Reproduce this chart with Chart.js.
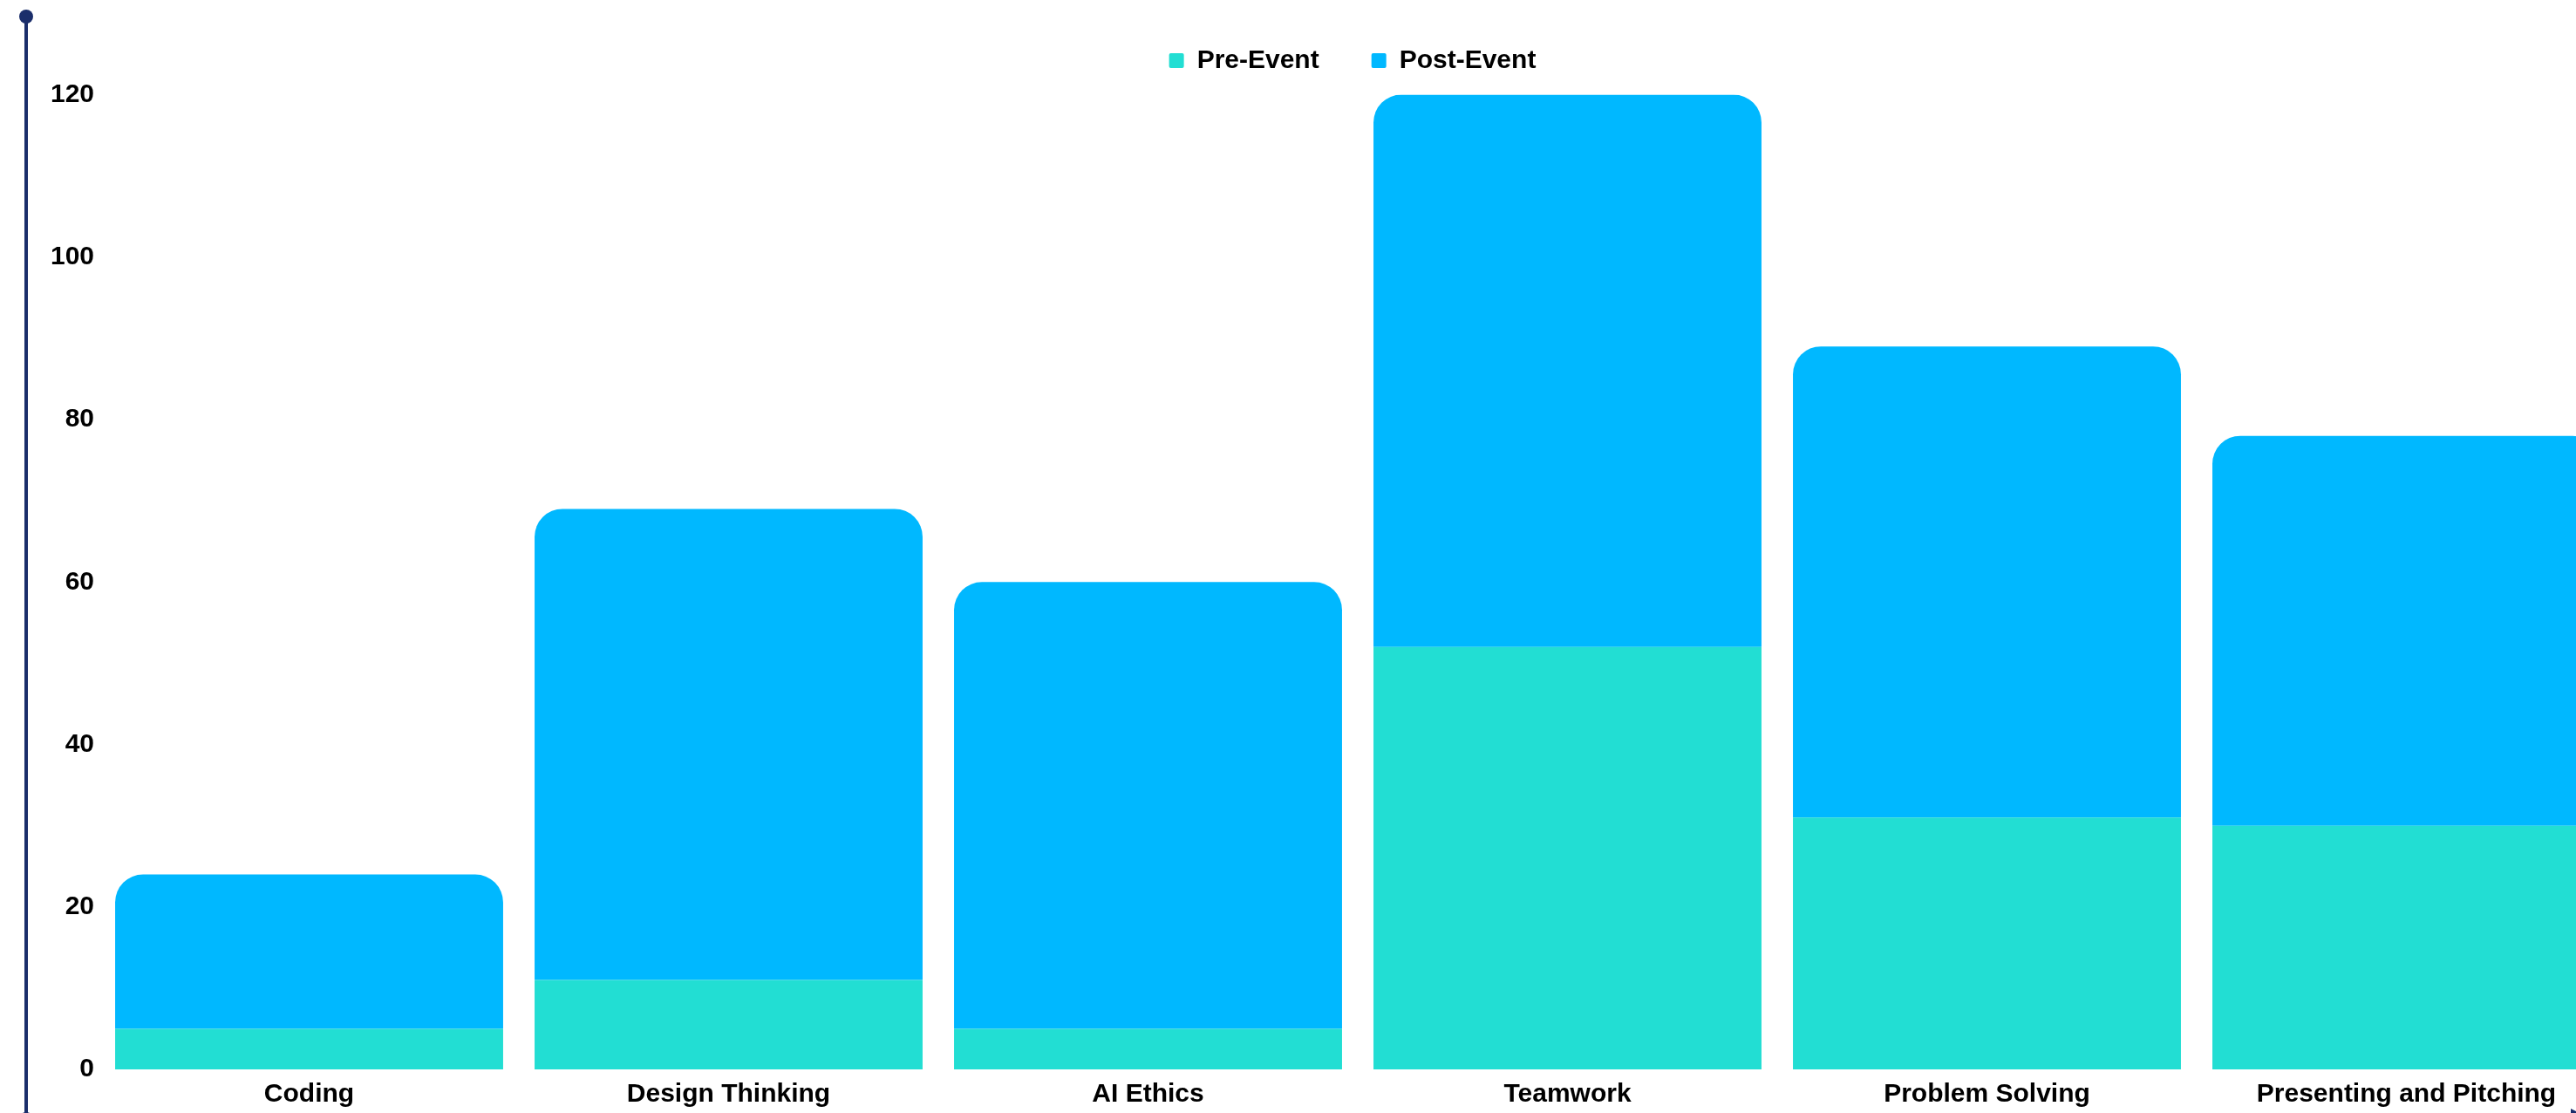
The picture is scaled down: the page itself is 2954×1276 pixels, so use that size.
<!DOCTYPE html>
<html>
<head>
<meta charset="utf-8">
<script src="https://cdn.jsdelivr.net/npm/chart.js@4.4.1/dist/chart.umd.min.js"></script>
<style>
  html, body { margin: 0; padding: 0; background: #ffffff; overflow: hidden; }
  #wrap { position: relative; width: 3100px; height: 1300px; }
</style>
</head>
<body>
<div id="wrap"><canvas id="c"></canvas></div>
<script>
const categories = ["Coding", "Design Thinking", "AI Ethics", "Teamwork", "Problem Solving", "Presenting and Pitching"];
const preEvent = [5, 11, 5, 52, 31, 30];
const postEvent = [19, 58, 55, 68, 58, 48];
const seriesNames = ["Pre-Event", "Post-Event"];
const yTicks = [0, 20, 40, 60, 80, 100, 120];

const COLORS = { pre: "#22DED3", post: "#00B8FF", axis: "#1B2E6B", text: "#000000" };

Chart.defaults.font.family = "'Liberation Sans', Arial, sans-serif";

// adds a gap between the legend and the plot area, and nudges the legend row
const legendGap = {
  id: "legendGap",
  beforeLayout(chart) {
    const lg = chart.legend;
    if (lg && !lg._gapPatched) {
      const orig = lg.fit;
      lg.fit = function () { orig.call(this); this.height += 14; };
      lg._gapPatched = true;
    }
  },
  afterLayout(chart) {
    const lg = chart.legend;
    if (lg) { lg.left -= 6; lg.right -= 6; }
  }
};

const axisDecor = {
  id: "axisDecor",
  afterDraw(chart) {
    const ctx = chart.ctx;
    const x0 = chart.scales.y.left + 30;
    const yTop = 19;
    const yBot = 1283;
    ctx.save();
    ctx.strokeStyle = COLORS.axis;
    ctx.fillStyle = COLORS.axis;
    ctx.lineWidth = 4;
    ctx.beginPath();
    ctx.moveTo(x0, yTop);
    ctx.lineTo(x0, yBot);
    ctx.lineTo(2950, yBot);
    ctx.stroke();
    ctx.beginPath();
    ctx.arc(x0, yTop, 8, 0, Math.PI * 2);
    ctx.fill();
    ctx.beginPath();
    ctx.arc(x0, yBot, 8, 0, Math.PI * 2);
    ctx.fill();
    ctx.beginPath();
    ctx.moveTo(2948, yBot - 12);
    ctx.lineTo(2972, yBot);
    ctx.lineTo(2948, yBot + 12);
    ctx.closePath();
    ctx.fill();
    ctx.restore();
  }
};

new Chart(document.getElementById("c"), {
  type: "bar",
  data: {
    labels: categories,
    datasets: [
      { label: seriesNames[0], data: preEvent, backgroundColor: COLORS.pre, borderWidth: 0 },
      { label: seriesNames[1], data: postEvent, backgroundColor: COLORS.post, borderWidth: 0,
        borderRadius: { topLeft: 32, topRight: 32, bottomLeft: 0, bottomRight: 0 }, borderSkipped: "start" }
    ]
  },
  options: {
    responsive: true,
    maintainAspectRatio: false,
    animation: false,
    devicePixelRatio: 1,
    layout: { padding: { top: -5.5, left: 0, right: 100, bottom: 0 } },
    datasets: { bar: { categoryPercentage: 1, barPercentage: 0.925 } },
    plugins: {
      tooltip: { enabled: false },
      legend: {
        position: "top",
        fullSize: false,
        labels: {
          color: COLORS.text,
          font: { size: 30, weight: "bold" },
          boxWidth: 17,
          boxHeight: 17,
          padding: 60,
          useBorderRadius: true,
          borderRadius: 2
        }
      }
    },
    scales: {
      x: {
        stacked: true,
        grid: { display: false, drawTicks: false, tickLength: 0 },
        border: { display: false },
        ticks: { color: COLORS.text, font: { size: 30, weight: "bold" }, padding: 11, maxRotation: 0, minRotation: 0, autoSkip: false },
        afterFit(scale) { scale.height = 74; scale.paddingLeft = 0; scale.paddingRight = 0; }
      },
      y: {
        stacked: true,
        min: yTicks[0],
        max: yTicks[yTicks.length - 1],
        grid: { display: false, drawTicks: false, tickLength: 0 },
        border: { display: false },
        afterBuildTicks(scale) { scale.ticks = yTicks.map(v => ({ value: v })); },
        ticks: { color: COLORS.text, font: { size: 30, weight: "bold" }, padding: 6 },
        afterFit(scale) { scale.width = 114; }
      }
    }
  },
  plugins: [legendGap, axisDecor]
});
</script>
</body>
</html>
